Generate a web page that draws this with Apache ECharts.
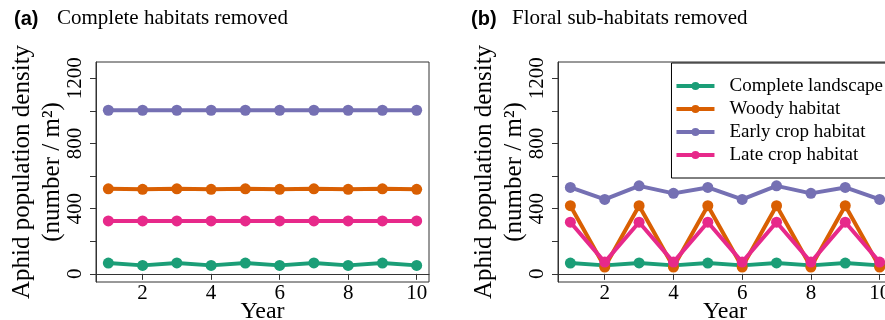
<!DOCTYPE html>
<html>
<head>
<meta charset="utf-8">
<script src="https://cdn.jsdelivr.net/npm/echarts@6/dist/echarts.min.js"></script>
<style>
html,body{margin:0;padding:0;background:#fff;}
#chart{width:885px;height:320px;}
</style>
</head>
<body>
<div id="chart"></div>
<script>
var years = [1, 2, 3, 4, 5, 6, 7, 8, 9, 10];
var seriesNames = ['Complete landscape', 'Woody habitat', 'Early crop habitat', 'Late crop habitat'];
// (a) complete habitats removed
var aComplete = [66, 52, 67, 52, 66, 52, 67, 52, 66, 52];
var aWoody = [522, 519, 522, 519, 522, 519, 522, 519, 522, 519];
var aEarly = [1004, 1004, 1004, 1004, 1004, 1004, 1004, 1004, 1004, 1004];
var aLate = [325, 325, 325, 325, 325, 325, 325, 325, 325, 325];
// (b) floral sub-habitats removed
var bComplete = [66, 52, 67, 52, 66, 52, 67, 52, 66, 52];
var bWoody = [418, 42, 418, 42, 418, 42, 418, 42, 418, 42];
var bEarly = [530, 457, 540, 494, 530, 457, 540, 494, 530, 457];
var bLate = [317, 72, 317, 72, 317, 72, 317, 72, 317, 72];
var xTicks = [2, 4, 6, 8, 10];
var yTicks = [0, 200, 400, 600, 800, 1000, 1200];
var yLabels = [0, 400, 800, 1200];

var colors = ['#1B9E77', '#D95F02', '#7570B3', '#E7298A'];
var serif = 'Liberation Serif';

function pairs(vals){
	var out = [];
	for (var i = 0; i < years.length; i++) out.push([years[i], vals[i]]);
	return out;
}

function xAxisFor(idx){
	return {
		type: 'value',
		gridIndex: idx,
		min: 0.64,
		max: 10.36,
		name: 'Year',
		nameLocation: 'middle',
		nameGap: 18,
		nameMoveOverlap: false,
		nameTextStyle: { fontFamily: serif, fontSize: 24, color: '#000' },
		axisLine: { show: true, lineStyle: { color: '#333', width: 1 } },
		axisTick: { show: true, length: 6, customValues: xTicks, lineStyle: { color: '#333' } },
		axisLabel: { customValues: xTicks, margin: 1, fontFamily: serif, fontSize: 21, color: '#000' },
		splitLine: { show: false }
	};
}

function yAxisFor(idx){
	return {
		type: 'value',
		gridIndex: idx,
		min: -50,
		max: 1300,
		name: 'Aphid population density\n(number / m²)',
		nameLocation: 'middle',
		nameRotate: 90,
		nameGap: 29,
		nameMoveOverlap: false,
		nameTextStyle: { fontFamily: serif, fontSize: 25, lineHeight: 30, color: '#000', align: 'center' },
		axisLine: { show: true, lineStyle: { color: '#333', width: 1 } },
		axisTick: { show: true, length: 6, customValues: yTicks, lineStyle: { color: '#333' } },
		axisLabel: {
			customValues: yLabels, rotate: 90, margin: 10,
			fontFamily: serif, fontSize: 21, color: '#000',
			formatter: function(v){ return String(v); }
		},
		splitLine: { show: false }
	};
}

function lineSeries(name, idx, vals, color){
	return {
		name: name,
		type: 'line',
		xAxisIndex: idx,
		yAxisIndex: idx,
		data: pairs(vals),
		symbol: 'circle',
		symbolSize: 11,
		showAllSymbol: true,
		color: color,
		lineStyle: { width: 4, color: color },
		itemStyle: { color: color },
		emphasis: { disabled: true },
		animation: false
	};
}

var chart = echarts.init(document.getElementById('chart'));
var option = {
	animation: false,
	color: colors,
	graphic: [
		{ type: 'text', left: 14, top: 9, style: { text: '(a)', font: 'bold 20px "Liberation Sans"', fill: '#000' } },
		{ type: 'text', left: 57, top: 8, style: { text: 'Complete habitats removed', font: '21px "Liberation Serif"', fill: '#000' } },
		{ type: 'text', left: 471, top: 9, style: { text: '(b)', font: 'bold 20px "Liberation Sans"', fill: '#000' } },
		{ type: 'text', left: 512, top: 8, style: { text: 'Floral sub-habitats removed', font: '21px "Liberation Serif"', fill: '#000' } }
	],
	legend: {
		data: seriesNames,
		orient: 'vertical',
		right: -12,
		top: 63,
		padding: [13, 14, 13, 3],
		itemGap: 3,
		itemWidth: 38,
		itemHeight: 10,
		borderColor: '#000',
		borderWidth: 1,
		backgroundColor: '#fff',
		lineStyle: { width: 4 },
		textStyle: { fontFamily: serif, fontSize: 19, lineHeight: 20, color: '#000', padding: [0, 0, 0, 10] }
	},
	grid: [
		{ left: 96, top: 62, width: 333, height: 220, outerBoundsMode: 'none', show: true, borderColor: '#333', borderWidth: 1 },
		{ left: 558, top: 62, width: 334, height: 220, outerBoundsMode: 'none', show: true, borderColor: '#333', borderWidth: 1 }
	],
	xAxis: [xAxisFor(0), xAxisFor(1)],
	yAxis: [yAxisFor(0), yAxisFor(1)],
	series: [
		lineSeries(seriesNames[0], 0, aComplete, colors[0]),
		lineSeries(seriesNames[1], 0, aWoody, colors[1]),
		lineSeries(seriesNames[2], 0, aEarly, colors[2]),
		lineSeries(seriesNames[3], 0, aLate, colors[3]),
		lineSeries(seriesNames[0], 1, bComplete, colors[0]),
		lineSeries(seriesNames[1], 1, bWoody, colors[1]),
		lineSeries(seriesNames[2], 1, bEarly, colors[2]),
		lineSeries(seriesNames[3], 1, bLate, colors[3])
	]
};
chart.setOption(option);
</script>
</body>
</html>
